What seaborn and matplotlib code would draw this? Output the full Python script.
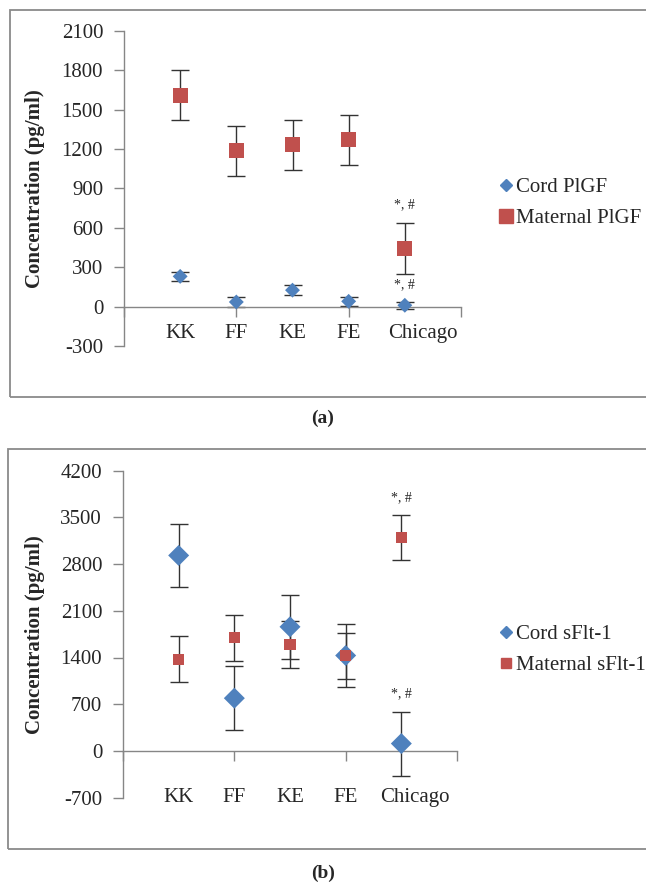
import numpy as np
import pandas as pd
import seaborn as sns
import matplotlib.pyplot as plt
import matplotlib.transforms as mtransforms
from matplotlib.lines import Line2D
from matplotlib.patches import Rectangle

groups = ["KK", "FF", "KE", "FE", "Chicago"]

# panel (a): PlGF
cord_plgf = [230, 35, 125, 40, 10]
cord_plgf_err = [35, 40, 40, 35, 25]
mat_plgf = [1610, 1185, 1232, 1270, 445]
mat_plgf_err = [190, 190, 190, 190, 195]

# panel (b): sFlt-1
cord_sflt = [2930, 790, 1860, 1430, 110]
cord_sflt_err = [470, 480, 480, 475, 480]
mat_sflt = [1375, 1695, 1595, 1425, 3200]
mat_sflt_err = [345, 340, 345, 340, 340]

sig_mark = "*, #"

sns.set_style("white")
plt.rcParams['font.family'] = ['Liberation Serif', 'DejaVu Serif']
plt.rcParams['axes.unicode_minus'] = False

blue = "#4F81BD"
red = "#C0504D"
grey = "#868686"

fig = plt.figure(figsize=(6.46, 8.83), dpi=100)

# outer frames of each panel
fig.patches.append(Rectangle((10/646, 1-397/883), 1.0, 387/883, transform=fig.transFigure,
                             fill=False, ec="#8a8a8a", lw=1.3))
fig.patches.append(Rectangle((8/646, 1-849/883), 1.0, 400/883, transform=fig.transFigure,
                             fill=False, ec="#8a8a8a", lw=1.3))

ax1 = fig.add_axes([124/646, 1-346/883, 337/646, 315.3/883])
ax2 = fig.add_axes([123/646, 1-797.6/883, 334/646, 326.9/883])


def panel(ax, cord, cord_err, mat, mat_err, names, ylim, step, sizes, lab_y, chic_nudge,
          leg_y, leg_sizes):
    pos = np.arange(1, len(groups) + 1)
    df = pd.DataFrame({
        "pos": np.concatenate([pos, pos]),
        "value": cord + mat,
        "series": [names[0]] * len(pos) + [names[1]] * len(pos),
    })
    ax.errorbar(pos, cord, yerr=cord_err, fmt="none", ecolor="#333333", elinewidth=1,
                capsize=6.5, capthick=1, zorder=2)
    ax.errorbar(pos, mat, yerr=mat_err, fmt="none", ecolor="#333333", elinewidth=1,
                capsize=6.5, capthick=1, zorder=2)
    sns.scatterplot(data=df, x="pos", y="value", hue="series", style="series", size="series",
                    palette={names[0]: blue, names[1]: red},
                    markers={names[0]: "D", names[1]: "s"},
                    sizes={names[0]: sizes[0] ** 2, names[1]: sizes[1] ** 2},
                    linewidth=0, legend=False, ax=ax, zorder=3)

    ax.set_xlim(0, 6)
    ax.set_ylim(*ylim)
    ax.set_yticks(np.arange(ylim[0], ylim[1] + 1, step))
    ax.set_xticks([0, 2, 4, 6])
    ax.set_xticklabels([])
    ax.set_xlabel("")
    for s in ["top", "right"]:
        ax.spines[s].set_visible(False)
    ax.spines["bottom"].set_position(("data", 0))
    ax.spines["left"].set_color(grey)
    ax.spines["bottom"].set_color(grey)
    ax.spines["left"].set_linewidth(1)
    ax.spines["bottom"].set_linewidth(1)
    ax.tick_params(axis="y", direction="out", length=7, width=1, color=grey,
                   labelsize=15, pad=8, left=True)
    ax.tick_params(axis="x", direction="out", length=7, width=1, color=grey, bottom=True)
    ax.set_ylabel("Concentration (pg/ml)", fontsize=15, fontweight="bold")
    ax.yaxis.set_label_coords(-0.235, 0.5)

    # category labels
    tr = mtransforms.blended_transform_factory(ax.transData, ax.transAxes)
    for i, g in enumerate(groups):
        x = pos[i] + (chic_nudge if g == "Chicago" else 0)
        ax.text(x, lab_y, g, transform=tr, ha="center", va="center", fontsize=15)

    # significance marks at Chicago
    for v, e in [(cord[-1], cord_err[-1]), (mat[-1], mat_err[-1])]:
        ax.annotate(sig_mark, (pos[-1], v + e), xytext=(0, 12.5), textcoords="offset points",
                    ha="center", va="center", fontsize=10)

    handles = [Line2D([], [], ls="none", marker="D", color=blue, markersize=leg_sizes[0]),
               Line2D([], [], ls="none", marker="s", color=red, markersize=leg_sizes[1])]
    ax.legend(handles, names, loc="center left", bbox_to_anchor=(490/646, leg_y),
              bbox_transform=fig.transFigure, frameon=False, fontsize=15,
              handlelength=0.7, handletextpad=0.15, labelspacing=0.55, borderaxespad=0)


panel(ax1, cord_plgf, cord_plgf_err, mat_plgf, mat_plgf_err,
      ["Cord PlGF", "Maternal PlGF"], (-300, 2100), 300, (7.6, 10.8),
      0.04, 0.32, 1 - 203/883, (6.5, 9.5))
panel(ax2, cord_sflt, cord_sflt_err, mat_sflt, mat_sflt_err,
      ["Cord sFlt-1", "Maternal sFlt-1"], (-700, 4200), 700, (10.7, 8),
      0.0, 0.25, 1 - 650/883, (6.5, 7))

fig.text(0.5, 1 - 418/883, "(a)", ha="center", va="center", fontsize=14, fontweight="bold")
fig.text(0.5, 1 - 873/883, "(b)", ha="center", va="center", fontsize=14, fontweight="bold")

fig.savefig("out.png", dpi=100)
